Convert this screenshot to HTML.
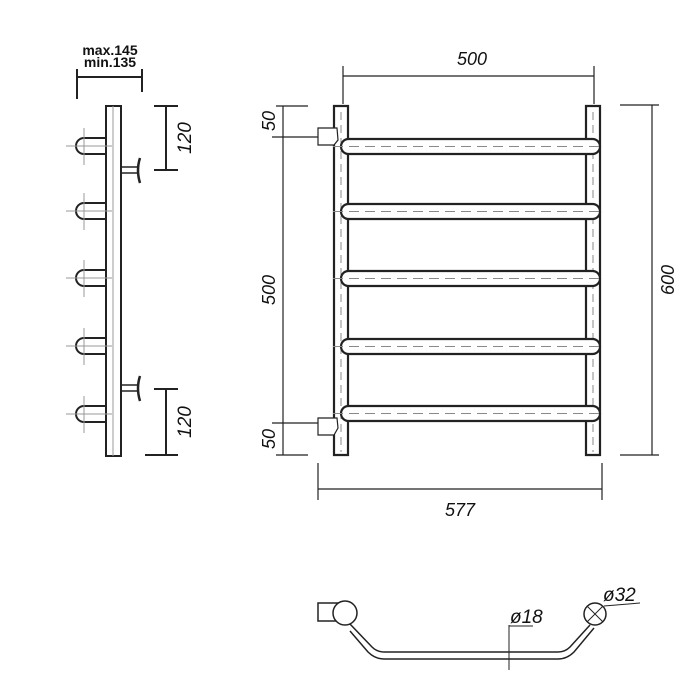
<!DOCTYPE html>
<html><head><style>body{margin:0;background:#fff}svg{display:block}</style></head><body>
<svg width="700" height="700" viewBox="0 0 700 700" xmlns="http://www.w3.org/2000/svg" font-family="Liberation Sans, sans-serif">
<g fill="none" stroke="#222">
<!-- SIDE VIEW -->
<text x="110" y="55" font-size="14" font-weight="bold" text-anchor="middle" fill="#111" stroke="none">max.145</text>
<text x="110" y="67" font-size="14" font-weight="bold" text-anchor="middle" fill="#111" stroke="none">min.135</text>
<line x1="77" y1="77" x2="142" y2="77" stroke-width="2"/>
<line x1="77" y1="69" x2="77" y2="99" stroke-width="2"/>
<line x1="142" y1="69" x2="142" y2="92" stroke-width="2"/>
<rect x="106" y="106" width="15" height="350" stroke-width="2"/>
<line x1="113" y1="106" x2="113" y2="456" stroke="#999" stroke-width="1"/>
<g stroke-width="2">
<path d="M106 138 H84 A8 8 0 0 0 84 154 H106"/>
<path d="M106 203 H84 A8 8 0 0 0 84 219 H106"/>
<path d="M106 270 H84 A8 8 0 0 0 84 286 H106"/>
<path d="M106 338 H84 A8 8 0 0 0 84 354 H106"/>
<path d="M106 406 H84 A8 8 0 0 0 84 422 H106"/>
</g>
<g stroke="#999" stroke-width="1">
<path d="M66 146 H112 M84 128 V165"/>
<path d="M66 211 H112 M84 193 V230"/>
<path d="M66 278 H112 M84 260 V297"/>
<path d="M66 346 H112 M84 328 V365"/>
<path d="M66 414 H112 M84 396 V433"/>
</g>
<g stroke-width="1.5">
<path d="M122 167 H138 M122 173 H138"/>
<path d="M140 158 Q136 170 140 183" stroke-width="2.5"/>
<path d="M122 385 H138 M122 391 H138"/>
<path d="M140 376 Q136 388 140 401" stroke-width="2.5"/>
</g>
<g stroke-width="2">
<line x1="166" y1="106" x2="166" y2="170"/>
<line x1="154" y1="106" x2="178" y2="106"/>
<line x1="154" y1="170" x2="178" y2="170"/>
<line x1="166" y1="389" x2="166" y2="455"/>
<line x1="154" y1="389" x2="178" y2="389"/>
<line x1="145" y1="455" x2="178" y2="455"/>
</g>
<text transform="translate(191,138) rotate(-90)" font-size="19" font-style="italic" text-anchor="middle" fill="#111" stroke="none">120</text>
<text transform="translate(191,422) rotate(-90)" font-size="19" font-style="italic" text-anchor="middle" fill="#111" stroke="none">120</text>

<!-- FRONT VIEW -->
<g stroke-width="1.2">
<line x1="343" y1="76" x2="594" y2="76"/>
<line x1="343" y1="66" x2="343" y2="104"/>
<line x1="594" y1="66" x2="594" y2="104"/>
<line x1="283" y1="106" x2="283" y2="455"/>
<line x1="276" y1="106" x2="308" y2="106"/>
<line x1="272" y1="137" x2="328" y2="137"/>
<line x1="272" y1="423" x2="328" y2="423"/>
<line x1="276" y1="455" x2="308" y2="455"/>
<line x1="652" y1="105" x2="652" y2="455"/>
<line x1="620" y1="105" x2="659" y2="105"/>
<line x1="620" y1="455" x2="659" y2="455"/>
<line x1="318" y1="489" x2="602" y2="489"/>
<line x1="318" y1="463" x2="318" y2="500"/>
<line x1="602" y1="463" x2="602" y2="500"/>
</g>
<text x="472" y="65" font-size="18" font-style="italic" text-anchor="middle" fill="#111" stroke="none">500</text>
<text transform="translate(275,121) rotate(-90)" font-size="18" font-style="italic" text-anchor="middle" fill="#111" stroke="none">50</text>
<text transform="translate(275,290) rotate(-90)" font-size="18" font-style="italic" text-anchor="middle" fill="#111" stroke="none">500</text>
<text transform="translate(275,439) rotate(-90)" font-size="18" font-style="italic" text-anchor="middle" fill="#111" stroke="none">50</text>
<text transform="translate(674,280) rotate(-90)" font-size="18" font-style="italic" text-anchor="middle" fill="#111" stroke="none">600</text>
<text x="460" y="516" font-size="18" font-style="italic" text-anchor="middle" fill="#111" stroke="none">577</text>
<!-- rails -->
<g stroke-width="2.2">
<path d="M334 455 V106 H348 V455 Z"/>
<path d="M586 455 V106 H600 V455 Z"/>
</g>
<g stroke="#888" stroke-width="1" stroke-dasharray="8 5">
<line x1="341" y1="112" x2="341" y2="452"/>
<line x1="593" y1="112" x2="593" y2="452"/>
</g>
<!-- bars -->
<g stroke-width="2.2" fill="#fff">
<rect x="341" y="139" width="259" height="15" rx="7.5"/>
<rect x="341" y="204" width="259" height="15" rx="7.5"/>
<rect x="341" y="271" width="259" height="15" rx="7.5"/>
<rect x="341" y="339" width="259" height="15" rx="7.5"/>
<rect x="341" y="406" width="259" height="15" rx="7.5"/>
</g>
<g stroke="#888" stroke-width="1" stroke-dasharray="10 6">
<line x1="333" y1="146.5" x2="605" y2="146.5"/>
<line x1="333" y1="211.5" x2="605" y2="211.5"/>
<line x1="333" y1="278.5" x2="605" y2="278.5"/>
<line x1="333" y1="346.5" x2="605" y2="346.5"/>
<line x1="333" y1="413.5" x2="605" y2="413.5"/>
</g>
<g stroke-width="1.2" fill="#fff">
<path d="M337 128 H318 V145 H334 L338 140 Z"/>
<path d="M337 418 H318 V435 H334 L338 428 Z"/>
</g>

<!-- TOP VIEW -->
<g stroke-width="1.5">
<rect x="318" y="603" width="22" height="18"/>
<path d="M350 624 L372 647 Q377 652 384 652 H558 Q565 652 570 647 L590 625"/>
<path d="M350 631 L368 652 Q375 659 384 659 H558 Q567 659 574 652 L594 628"/>
<circle cx="345" cy="613" r="12" fill="#fff"/>
<circle cx="595" cy="614" r="11" fill="#fff"/>
<path d="M587 606 L603 622 M603 606 L587 622" stroke-width="1"/>
</g>
<g stroke-width="1">
<line x1="509" y1="625" x2="509" y2="670"/>
<line x1="509" y1="626" x2="533" y2="626"/>
<line x1="604" y1="606" x2="640" y2="603"/>
</g>
<text x="510" y="623" font-size="19" font-style="italic" fill="#111" stroke="none">ø18</text>
<text x="603" y="601" font-size="19" font-style="italic" fill="#111" stroke="none">ø32</text>
</g>
</svg>
</body></html>
